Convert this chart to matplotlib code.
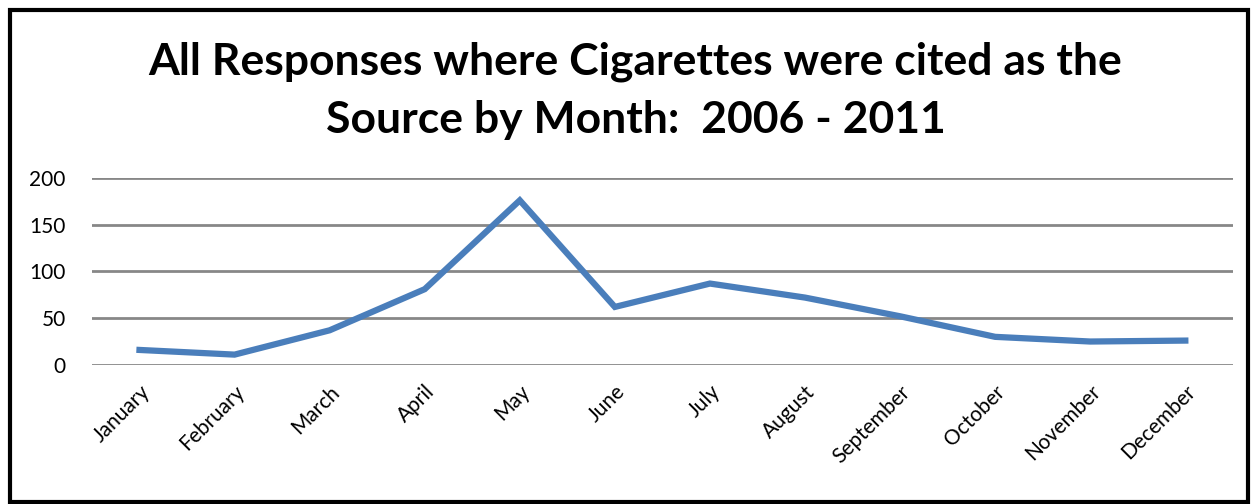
import matplotlib.pyplot as plt
from matplotlib.patches import Rectangle

# mesi e risposte
mesi = ["January", "February", "March", "April", "May", "June", "July",
        "August", "September", "October", "November", "December"]
risposte = [16, 11, 37, 81, 176, 62, 87, 72, 52, 30, 25, 26]
tick_y = [0, 50, 100, 150, 200]

plt.rcParams['font.family'] = ['Lato', 'DejaVu Sans']

fig = plt.figure(figsize=(12.51, 5.04), dpi=100)
ax = fig.add_axes([0.0735, 0.276, 0.912, 0.371])

x = range(len(mesi))
ax.plot(x, risposte, color="#4A7EBB", linewidth=4.5, solid_joinstyle="miter")

ax.set_xlim(-0.5, len(mesi) - 0.5)
ax.set_ylim(0, 200)
ax.set_yticks(tick_y)
ax.set_xticks(list(x))
ax.set_xticklabels(mesi, rotation=45, ha="right", rotation_mode="anchor", fontsize=15)
ax.tick_params(axis="y", labelsize=15, length=0, pad=19)
ax.tick_params(axis="x", length=0, pad=12)

# griglia orizzontale grigia
ax.grid(axis="y", color="#878787", linewidth=2)
ax.set_axisbelow(True)
for s in ax.spines.values():
    s.set_visible(False)

# titolo su due righe
fig.text(0.508, 0.82, "All Responses where Cigarettes were cited as the\nSource by Month:  2006 - 2011",
         ha="center", va="center", fontsize=32, fontweight="bold", linespacing=1.55)

# cornice nera
fig.patches.append(Rectangle((10 / 1251, 2 / 504), 1238 / 1251, 492 / 504,
                             transform=fig.transFigure, fill=False,
                             edgecolor="black", linewidth=3))

fig.savefig("out.png", dpi=100)
